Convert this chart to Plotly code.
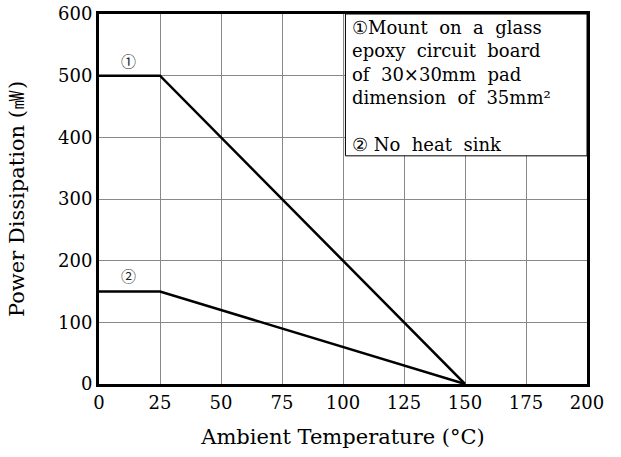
import plotly.graph_objects as go

# Derating curves (Ta in degC, Pd in mW)
temp_1 = [0, 25, 150]
power_1 = [500, 500, 0]
temp_2 = [0, 25, 150]
power_2 = [150, 150, 0]

x_ticks = [0, 25, 50, 75, 100, 125, 150, 175, 200]
y_ticks = [0, 100, 200, 300, 400, 500, 600]

note_lines = [
    "①Mount&nbsp; on&nbsp; a&nbsp; glass",
    "epoxy&nbsp; circuit&nbsp; board",
    "of&nbsp; 30×30mm&nbsp; pad",
    "dimension&nbsp; of&nbsp; 35mm²",
    "",
    "②&nbsp;No&nbsp; heat&nbsp; sink",
]

FONT = "DejaVu Serif, Liberation Serif, serif"

fig = go.Figure()

for xs, ys in [(temp_1, power_1), (temp_2, power_2)]:
    fig.add_trace(go.Scatter(
        x=xs, y=ys, mode="lines",
        line=dict(color="black", width=2.5),
        hoverinfo="skip", showlegend=False,
    ))

# curve markers
fig.add_annotation(x=12, y=524, text="①", showarrow=False,
                   font=dict(family="Noto Sans CJK JP", size=15, color="#222"))
fig.add_annotation(x=12, y=176, text="②", showarrow=False,
                   font=dict(family="Noto Sans CJK JP", size=15, color="#222"))

# note box
fig.add_shape(type="rect", x0=101, x1=200, y0=370, y1=600,
              line=dict(color="black", width=1), fillcolor="white", layer="above")
fig.add_annotation(
    x=103, y=599, xanchor="left", yanchor="top",
    text="<br>".join(note_lines), align="left", showarrow=False,
    font=dict(family=FONT, size=18, color="black"),
)

fig.update_xaxes(
    range=[0, 200], tickvals=x_ticks, ticks="",
    showgrid=True, gridcolor="#888", gridwidth=1,
    showline=True, linecolor="black", linewidth=3, mirror=True,
    zeroline=False, automargin=False,
    tickfont=dict(family=FONT, size=18, color="black"),
    title=dict(text="Ambient Temperature (°C)",
               font=dict(family=FONT, size=21, color="black"), standoff=18),
)
fig.update_yaxes(
    range=[0, 600], tickvals=y_ticks, ticks="",
    showgrid=True, gridcolor="#888", gridwidth=1,
    showline=True, linecolor="black", linewidth=3, mirror=True,
    zeroline=False, automargin=False,
    tickfont=dict(family=FONT, size=18, color="black"),
    title=dict(text="Power Dissipation (㎽)",
               font=dict(family=FONT, size=21, color="black"), standoff=28),
)

fig.update_layout(
    width=621, height=457,
    margin=dict(l=99, r=34, t=14, b=73),
    paper_bgcolor="white", plot_bgcolor="white",
)

# drop the default page margin so the figure fills the window
fig.write_html("out.html", config={"displayModeBar": False},
               post_script="document.body.style.margin='0';")
